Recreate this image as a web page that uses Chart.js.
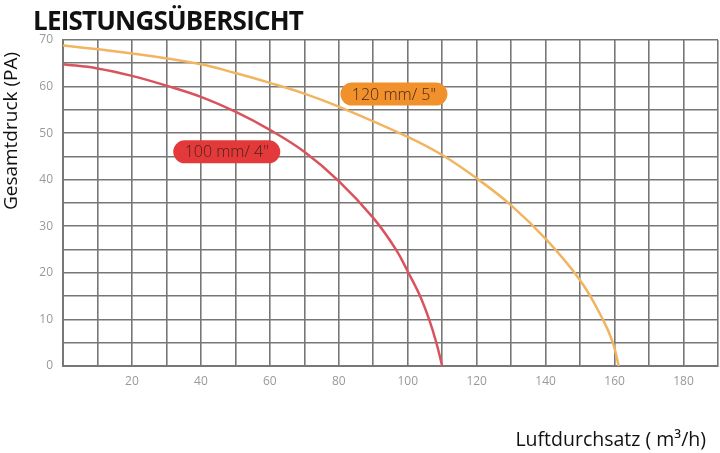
<!DOCTYPE html>
<html>
<head>
<meta charset="utf-8">
<script src="https://cdn.jsdelivr.net/npm/chart.js@4"></script>
<style>
  body { margin: 0; background: #fff; }
  #wrap { position: relative; width: 720px; height: 453px; }
  #title { position: absolute; left: 33px; top: 2px; font: bold 26px "Open Sans", sans-serif; letter-spacing: -0.8px; color: #111; }
</style>
</head>
<body>
<div id="wrap">
  <div id="title">LEISTUNGSÜBERSICHT</div>
  <canvas id="myChart" width="720" height="453"></canvas>
</div>
<script>
const flow100 = [0, 10, 20, 30, 40, 50, 60, 70, 80, 90, 96.6, 100, 103.6, 106.2, 108.3, 110];
const press100 = [64.8, 63.9, 62.3, 60.2, 57.8, 54.6, 50.7, 46, 39.7, 31.8, 25, 20.3, 15, 10, 5, 0];
const flow120 = [0, 20, 40, 50, 60, 70, 80, 100, 110, 120, 130, 140, 150, 156.6, 159.5, 161.2];
const press120 = [68.8, 67.1, 64.8, 62.9, 60.8, 58.5, 55.7, 49.2, 45.3, 40.3, 34.5, 27.3, 18.4, 10, 5, 0];
const seriesLabels = ['100 mm/ 4"', '120 mm/ 5"'];
const labelSpots = [[47.5, 46], [96, 58.4]];
const xTitle = 'Luftdurchsatz ( m³/h)';
const yTitle = 'Gesamtdruck (PA)';

const lineColors = ['#d9535d', '#f1b460'];
const pillColors = ['#e3393a', '#f0912b'];

function toPoints(xs, ys) {
  return xs.map((x, i) => ({ x: x, y: ys[i] }));
}

// pills on the curves plus the two axis titles
const extrasPlugin = {
  id: 'extras',
  afterDatasetsDraw(chart) {
    const ctx = chart.ctx;
    const xs = chart.scales.x, ys = chart.scales.y;
    ctx.save();
    ctx.font = '300 16px "Open Sans", sans-serif';
    ctx.textAlign = 'center';
    ctx.textBaseline = 'middle';
    seriesLabels.forEach((txt, i) => {
      const cx = xs.getPixelForValue(labelSpots[i][0]);
      const cy = ys.getPixelForValue(labelSpots[i][1]);
      const w = 107, h = 23;
      ctx.fillStyle = pillColors[i];
      ctx.beginPath();
      ctx.roundRect(cx - w / 2, cy - h / 2, w, h, h / 2);
      ctx.fill();
      ctx.fillStyle = '#4a2418';
      ctx.fillText(txt, cx, cy + 1);
    });

    ctx.fillStyle = '#111';
    ctx.font = '19.5px "Open Sans", sans-serif';
    ctx.textAlign = 'right';
    ctx.fillText(xTitle, 706, 440);

    ctx.font = '19px "Open Sans", sans-serif';
    ctx.textAlign = 'center';
    ctx.translate(12, 131);
    ctx.rotate(-Math.PI / 2);
    ctx.fillText(yTitle, 0, 0);
    ctx.restore();
  }
};

function initChart() {
  const ctx = document.getElementById('myChart');
  return new Chart(ctx, {
    type: 'scatter',
    data: {
      datasets: [
        { data: toPoints(flow100, press100), borderColor: lineColors[0], borderWidth: 2.5, showLine: true, pointRadius: 0, tension: 0.4 },
        { data: toPoints(flow120, press120), borderColor: lineColors[1], borderWidth: 2.5, showLine: true, pointRadius: 0, tension: 0.4 }
      ]
    },
    options: {
      responsive: false,
      animation: false,
      layout: { padding: { top: 40, right: 2, left: 0, bottom: 0 } },
      plugins: { legend: { display: false }, tooltip: { enabled: false } },
      scales: {
        x: {
          type: 'linear', min: 0, max: 190,
          afterFit(scale) { scale.height = 87; scale.paddingLeft = 0; scale.paddingRight = 0; },
          border: { color: '#777', width: 2 },
          grid: { color: '#777', lineWidth: 1.6, drawTicks: false },
          ticks: {
            stepSize: 10, autoSkip: false, padding: 8, color: '#999',
            font: { family: 'Open Sans', size: 12 },
            callback: v => (v % 20 === 0 && v > 0 && v < 190) ? v : ''
          }
        },
        y: {
          min: 0, max: 70,
          afterFit(scale) { scale.width = 63; scale.paddingTop = 0; scale.paddingBottom = 0; },
          border: { color: '#777', width: 2 },
          grid: { color: '#777', lineWidth: 1.6, drawTicks: false },
          ticks: {
            stepSize: 5, autoSkip: false, padding: 10, color: '#999',
            font: { family: 'Open Sans', size: 12 },
            callback: v => v % 10 === 0 ? v : ''
          }
        }
      }
    },
    plugins: [extrasPlugin]
  });
}

document.addEventListener('DOMContentLoaded', () => initChart());
</script>
</body>
</html>
